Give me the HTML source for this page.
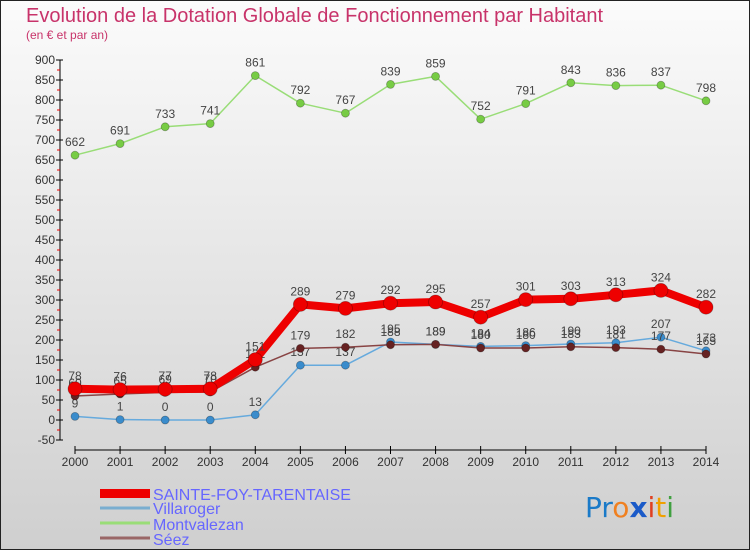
<!DOCTYPE html>
<html><head><meta charset="utf-8"><style>
body{margin:0;width:750px;height:550px;overflow:hidden;font-family:"Liberation Sans",sans-serif}
</style></head><body>
<svg width="750" height="550" xmlns="http://www.w3.org/2000/svg">
<defs><linearGradient id="bg" x1="0" y1="0" x2="0" y2="1"><stop offset="0" stop-color="#fbfbfb"/><stop offset="1" stop-color="#cfcfcf"/></linearGradient></defs>
<rect x="0.5" y="0.5" width="749" height="549" fill="url(#bg)" stroke="#222"/>
<text x="26" y="22" font-size="20" fill="#c8336a">Evolution de la Dotation Globale de Fonctionnement par Habitant</text>
<text x="26" y="39" font-size="12" fill="#c8336a">(en € et par an)</text>
<g id="axes"></g>
<g id="series"></g>
<g font-size="16" fill="#6666ff">
<rect x="100" y="489" width="50" height="9" fill="#e00"/>
<text x="153" y="500">SAINTE-FOY-TARENTAISE</text>
<line x1="100" y1="508" x2="150" y2="508" stroke="#7aaed0" stroke-width="3"/>
<text x="153" y="514">Villaroger</text>
<line x1="100" y1="523" x2="150" y2="523" stroke="#99dd77" stroke-width="3"/>
<text x="153" y="530">Montvalezan</text>
<line x1="100" y1="538" x2="150" y2="538" stroke="#996666" stroke-width="3"/>
<text x="153" y="545">Séez</text>
</g>
<g font-size="28" font-family="'DejaVu Sans',sans-serif">
<text x="585" y="517"><tspan fill="#1a7ac8">Pr</tspan><tspan fill="#f08020">o</tspan><tspan fill="#1a5ac8" font-weight="bold">x</tspan><tspan fill="#e04020">i</tspan><tspan fill="#f0a000">t</tspan><tspan fill="#40a040">i</tspan></text>
</g>
</svg>
<script>
const years=[2000,2001,2002,2003,2004,2005,2006,2007,2008,2009,2010,2011,2012,2013,2014];
const yTicks=[-50,0,50,100,150,200,250,300,350,400,450,500,550,600,650,700,750,800,850,900];
const montvalezan=[662,691,733,741,861,792,767,839,859,752,791,843,836,837,798];
const sainteFoy=[78,76,77,78,151,289,279,292,295,257,301,303,313,324,282];
const villaroger=[9,1,0,0,13,137,137,195,189,184,186,190,193,207,173];
const seez=[60,65,69,70,132,179,182,188,189,180,180,183,181,177,165];
const NS="http://www.w3.org/2000/svg";
const X=i=>75+i*(706-75)/(years.length-1);
const Y=v=>420-v*0.4;
function mk(t,a,p){const e=document.createElementNS(NS,t);for(const k in a)e.setAttribute(k,a[k]);(p).appendChild(e);return e;}
const ax=document.getElementById('axes');
const yl=mk('line',{x1:60,y1:Y(900),x2:60,y2:Y(-50),stroke:'#000'},ax);


yTicks.forEach((v,k)=>{
 mk('line',{x1:56,y1:Y(v),x2:63,y2:Y(v),stroke:'#000'},ax);
 if(k<yTicks.length-1) mk('line',{x1:57,y1:Y(v+25),x2:60,y2:Y(v+25),stroke:'#e00'},ax);
 const t=mk('text',{x:55,y:Y(v)+4,'text-anchor':'end','font-size':12,fill:'#333'},ax);t.textContent=v;
 
 
});
const xl=mk('line',{x1:X(0),y1:450,x2:X(14),y2:450,stroke:'#000'},ax);


years.forEach((y,i)=>{
 mk('line',{x1:X(i),y1:446,x2:X(i),y2:454,stroke:'#000'},ax);
 const t=mk('text',{x:X(i),y:466,'text-anchor':'middle','font-size':12,fill:'#333'},ax);t.textContent=y;
 
 
});
const sg=document.getElementById('series');
function draw(name,data,color,dot,w,r,lab){
 const g=mk('g',{},sg);
 
 
 mk('polyline',{points:data.map((v,i)=>X(i)+','+Y(v)).join(' '),fill:'none',stroke:color,'stroke-width':w,'stroke-linejoin':'round'},g);
 data.forEach((v,i)=>{
  const c=mk('circle',{cx:X(i),cy:Y(v),r:r,fill:dot,stroke:'rgba(0,0,0,0.3)','stroke-width':0.8},g);
  
  
  if(lab){const t=mk('text',{x:X(i),y:Y(v)-9,'text-anchor':'middle','font-size':12,fill:'#444'},g);t.textContent=v;}
 });
}
draw('montvalezan',montvalezan,'#99dd77','#77cc44',1.5,4,true);
draw('villaroger',villaroger,'#66aadd','#3a8ccc',1.5,4,true);
draw('seez',seez,'#884444','#662222',1.5,4,true);
draw('sainte-foy',sainteFoy,'#ee0000','#ee0000',8,7,true);
</script>
</body></html>
